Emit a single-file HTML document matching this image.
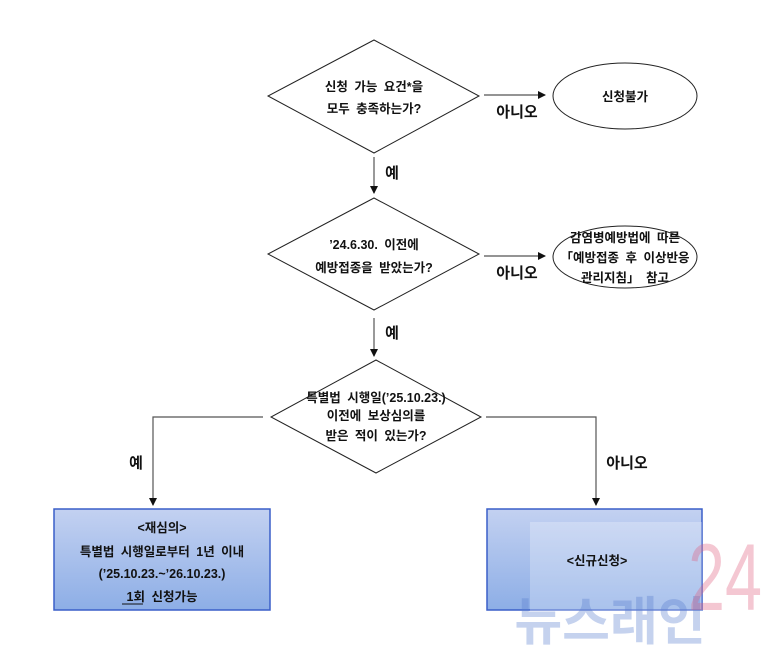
<!DOCTYPE html>
<html><head><meta charset="utf-8"><style>
body{margin:0;background:#fff;}
svg text{font-family:"Liberation Sans","Noto Sans CJK KR",sans-serif;font-weight:bold;fill:#111;word-spacing:3px;}
</style></head><body>
<svg width="761" height="647" viewBox="0 0 761 647" xmlns="http://www.w3.org/2000/svg">
<defs>
<marker id="a" markerWidth="8" markerHeight="8" refX="7" refY="4" orient="auto" markerUnits="userSpaceOnUse"><path d="M0,0 L8,4 L0,8 z" fill="#111"/></marker>
<linearGradient id="g" x1="0" y1="0" x2="0" y2="1"><stop offset="0" stop-color="#c3d1f1"/><stop offset="1" stop-color="#8daee6"/></linearGradient>
</defs>
<rect width="761" height="647" fill="#fff"/>
<g fill="none" stroke="#222" stroke-width="1">
<polygon points="374,40 479,96 374,153 268,96"/>
<polygon points="374,198 479,254 374,310 268,254"/>
<polygon points="376,360 481,417 376,473 271,417"/>
<ellipse cx="625" cy="96" rx="72" ry="33"/>
<ellipse cx="625" cy="257" rx="72" ry="31"/>
</g>
<g stroke="#555" stroke-width="1.2" fill="none">
<line x1="484" y1="95" x2="545" y2="95" marker-end="url(#a)"/>
<line x1="484" y1="256" x2="545" y2="256" marker-end="url(#a)"/>
<line x1="374" y1="157" x2="374" y2="193" marker-end="url(#a)"/>
<line x1="374" y1="318" x2="374" y2="356" marker-end="url(#a)"/>
<polyline points="263,417 153,417 153,505" marker-end="url(#a)"/>
<polyline points="486,417 596,417 596,505" marker-end="url(#a)"/>
</g>
<rect x="54" y="509" width="216" height="101" fill="url(#g)" stroke="#3a5fc8" stroke-width="1.5"/>
<rect x="487" y="509" width="215" height="101" fill="url(#g)" stroke="#3a5fc8" stroke-width="1.5"/>
<rect x="530" y="522" width="172" height="118" fill="#fff" opacity="0.25"/>
<g font-size="12.5" text-anchor="middle">
<text x="374" y="91">신청 가능 요건*을</text>
<text x="374" y="113">모두 충족하는가?</text>
<text x="374" y="249">’24.6.30. 이전에</text>
<text x="374" y="272">예방접종을 받았는가?</text>
<text x="376" y="402">특별법 시행일(’25.10.23.)</text>
<text x="376" y="420">이전에 보상심의를</text>
<text x="376" y="440">받은 적이 있는가?</text>
<text x="625" y="101">신청불가</text>
<text x="625" y="242">감염병예방법에 따른</text>
<text x="625" y="262">「예방접종 후 이상반응</text>
<text x="625" y="282">관리지침」 참고</text>
<text x="162" y="532">&lt;재심의&gt;</text>
<text x="162" y="556">특별법 시행일로부터 1년 이내</text>
<text x="162" y="578">(’25.10.23.~’26.10.23.)</text>
<text x="162" y="601">1회 신청가능</text>
<text x="597" y="565">&lt;신규신청&gt;</text>
</g>
<line x1="122" y1="604" x2="143" y2="604" stroke="#111" stroke-width="1"/>
<g font-size="15" text-anchor="middle">
<text x="517" y="117">아니오</text>
<text x="517" y="278">아니오</text>
<text x="392" y="178">예</text>
<text x="392" y="338">예</text>
<text x="136" y="468">예</text>
<text x="627" y="468">아니오</text>
</g>
<text x="610" y="640" font-size="52" text-anchor="middle" style="fill:#5b7fd0;opacity:0.35;word-spacing:0">뉴스래인</text>
<text x="725" y="610" font-size="95" text-anchor="middle" transform="translate(725,0) scale(0.7,1) translate(-725,0)" style="fill:#e06080;opacity:0.35;font-weight:normal">24</text>
</svg>
</body></html>
